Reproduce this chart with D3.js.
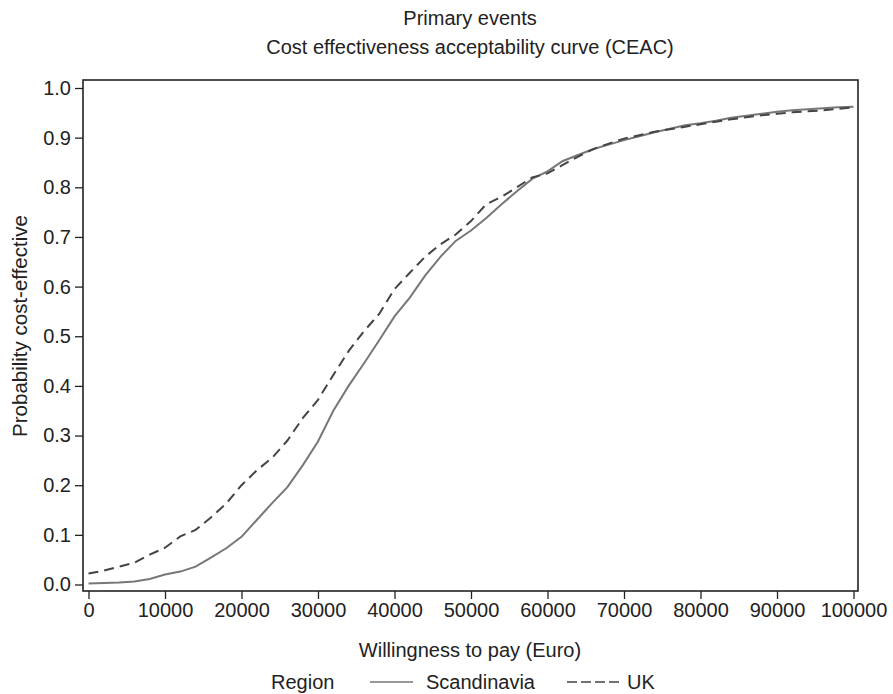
<!DOCTYPE html>
<html>
<head>
<meta charset="utf-8">
<script src="https://cdn.jsdelivr.net/npm/d3@7"></script>
<style>
  body { margin: 0; background: #fff; }
  svg { font-family: "Liberation Sans", Arial, sans-serif; }
</style>
</head>
<body>
<svg width="893" height="694"></svg>
<script>
// willingness to pay (Euro)
const wtp = [0, 2000, 4000, 6000, 8000, 10000, 12000, 14000, 16000, 18000,
    20000, 22000, 24000, 26000, 28000, 30000, 32000, 34000, 36000, 38000,
    40000, 42000, 44000, 46000, 48000, 50000, 52000, 54000, 56000, 58000,
    60000, 62000, 64000, 66000, 68000, 70000, 72000, 74000, 76000, 78000,
    80000, 82000, 84000, 86000, 88000, 90000, 92000, 94000, 96000, 98000, 100000];

const scandinavia = [0.002, 0.003, 0.004, 0.006, 0.011, 0.020, 0.026, 0.036, 0.054, 0.073,
    0.096, 0.130, 0.164, 0.196, 0.240, 0.288, 0.350, 0.400, 0.445, 0.492,
    0.540, 0.578, 0.622, 0.660, 0.692, 0.713, 0.738, 0.766, 0.792, 0.817,
    0.832, 0.853, 0.865, 0.877, 0.886, 0.895, 0.903, 0.911, 0.918, 0.925,
    0.929, 0.934, 0.940, 0.944, 0.948, 0.952, 0.955, 0.957, 0.959, 0.961, 0.962];

const uk = [0.022, 0.028, 0.036, 0.044, 0.060, 0.074, 0.097, 0.110, 0.135, 0.163,
    0.200, 0.230, 0.255, 0.290, 0.335, 0.372, 0.422, 0.470, 0.510, 0.545,
    0.595, 0.628, 0.660, 0.685, 0.705, 0.732, 0.766, 0.781, 0.800, 0.820,
    0.828, 0.845, 0.862, 0.877, 0.888, 0.898, 0.905, 0.912, 0.917, 0.922,
    0.927, 0.932, 0.937, 0.941, 0.945, 0.948, 0.951, 0.953, 0.955, 0.958, 0.961];

const xTicks = [0, 10000, 20000, 30000, 40000, 50000, 60000, 70000, 80000, 90000, 100000];
const yTicks = [0, 0.1, 0.2, 0.3, 0.4, 0.5, 0.6, 0.7, 0.8, 0.9, 1.0];

const svg = d3.select("svg");

// plot frame
const frame = { left: 83, right: 858, top: 80, bottom: 591 };

const x = d3.scaleLinear().domain([0, 100000]).range([88.5, 853.5]);
const y = d3.scaleLinear().domain([0, 1]).range([584.5, 88]);

svg.append("rect")
    .attr("x", frame.left).attr("y", frame.top)
    .attr("width", frame.right - frame.left)
    .attr("height", frame.bottom - frame.top)
    .attr("fill", "none").attr("stroke", "#222").attr("stroke-width", 1.6);

// x axis
const xAxis = svg.append("g").attr("transform", `translate(0,${frame.bottom})`);
xAxis.call(d3.axisBottom(x).tickValues(d3.range(0, 100001, 2000)).tickSize(5).tickFormat(""));
xAxis.call(d3.axisBottom(x).tickValues(xTicks).tickSize(8).tickFormat(d3.format("d")));
xAxis.selectAll(".domain").remove();
xAxis.selectAll("line").attr("stroke", "#222").attr("stroke-width", 1.3);
xAxis.selectAll("text").attr("font-size", 20).attr("fill", "#222").attr("y", 10).attr("dy", "0.78em");

// y axis
const yAxis = svg.append("g").attr("transform", `translate(${frame.left},0)`);
yAxis.call(d3.axisLeft(y).tickValues(d3.range(0, 1.001, 0.02)).tickSize(5).tickFormat(""));
yAxis.call(d3.axisLeft(y).tickValues(yTicks).tickSize(8).tickFormat(d3.format(".1f")));
yAxis.selectAll(".domain").remove();
yAxis.selectAll("line").attr("stroke", "#222").attr("stroke-width", 1.3);
yAxis.selectAll("text").attr("font-size", 20).attr("fill", "#222").attr("x", -12);

// curves
const line = d3.line().x((d, i) => x(wtp[i])).y(d => y(d));

svg.append("path")
    .datum(scandinavia)
    .attr("d", line)
    .attr("fill", "none")
    .attr("stroke", "#777")
    .attr("stroke-width", 2);

svg.append("path")
    .datum(uk)
    .attr("d", line)
    .attr("fill", "none")
    .attr("stroke", "#444")
    .attr("stroke-width", 2)
    .attr("stroke-dasharray", "10,6");

// titles
svg.append("text").attr("x", 470).attr("y", 25).attr("text-anchor", "middle")
    .attr("font-size", 20).attr("fill", "#222").text("Primary events");
svg.append("text").attr("x", 470).attr("y", 54).attr("text-anchor", "middle")
    .attr("font-size", 20).attr("fill", "#222").text("Cost effectiveness acceptability curve (CEAC)");

// axis labels
svg.append("text").attr("x", 470).attr("y", 657).attr("text-anchor", "middle")
    .attr("font-size", 20).attr("fill", "#222").text("Willingness to pay (Euro)");
svg.append("text")
    .attr("transform", `translate(27,326) rotate(-90)`)
    .attr("text-anchor", "middle")
    .attr("font-size", 20.5).attr("fill", "#222").text("Probability cost-effective");

// legend
const lg = svg.append("g").attr("font-size", 20).attr("fill", "#222");
lg.append("text").attr("x", 271).attr("y", 689).text("Region");
lg.append("line").attr("x1", 370).attr("x2", 413).attr("y1", 682).attr("y2", 682)
    .attr("stroke", "#777").attr("stroke-width", 1.5);
lg.append("text").attr("x", 426).attr("y", 689).text("Scandinavia");
lg.append("line").attr("x1", 567).attr("x2", 620).attr("y1", 682).attr("y2", 682)
    .attr("stroke", "#444").attr("stroke-width", 1.5).attr("stroke-dasharray", "10,4");
lg.append("text").attr("x", 627).attr("y", 689).text("UK");
</script>
</body>
</html>
